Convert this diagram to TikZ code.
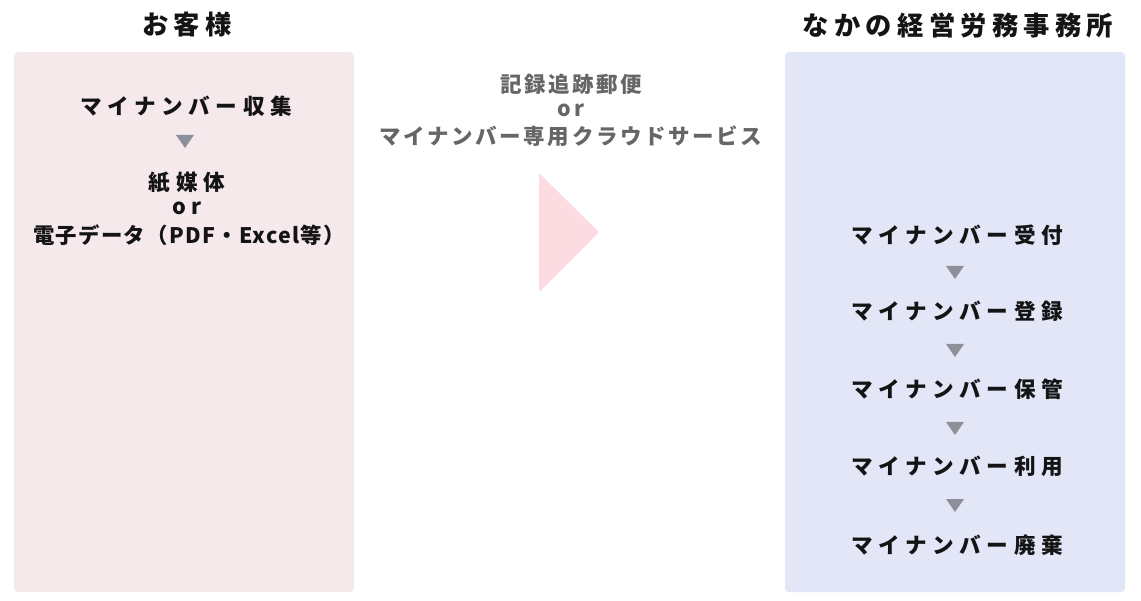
\documentclass[tikz,border=0pt]{standalone}
\usepackage{fontspec}
\setmainfont{Noto Sans CJK JP}
\newfontfamily\jpT{Noto Sans CJK JP}[LetterSpace=20]
\newfontfamily\jpA{Noto Sans CJK JP}[LetterSpace=26]
\newfontfamily\jpM{Noto Sans CJK JP}[LetterSpace=12]
\newfontfamily\jpB{Noto Sans CJK JP}[LetterSpace=6]
\definecolor{txt}{HTML}{141414}
\definecolor{midtxt}{HTML}{666666}
\definecolor{tri}{HTML}{8E9099}
\definecolor{pinkbox}{HTML}{F6E9EC}
\definecolor{bluebox}{HTML}{E2E6F7}
\definecolor{pinktri}{HTML}{FCDCE1}
\tikzset{
  ttl/.style={font=\jpT\bfseries\fontsize{26.3}{30}\selectfont, text=txt, inner sep=0pt},
  item/.style={font=\jpA\bfseries\fontsize{21.6}{24}\selectfont, text=txt, inner sep=0pt},
  itemB/.style={font=\jpB\bfseries\fontsize{21.4}{24}\selectfont, text=txt, inner sep=0pt},
  mid/.style={font=\jpM\bfseries\fontsize{21.5}{24}\selectfont, text=midtxt, inner sep=0pt},
  panel/.style={rounded corners=4pt},
  down/.style={fill=tri}
}
\begin{document}
\begin{tikzpicture}[x=1pt,y=-1pt]
\useasboundingbox (0,0) rectangle (1141,601);
\fill[white] (0,0) rectangle (1141,601);
% panels
\fill[panel, pinkbox] (14,52) rectangle (354,592);
\fill[panel, bluebox] (785,52) rectangle (1125,592);
% titles
\node[ttl] (t1) at (187,25) {お客様};
\node[ttl] (t2) at (958,25) {なかの経営労務事務所};
% left
\node[item] (l1) at (186,106) {マイナンバー収集};
\fill[down] (176,135) -- (194,135) -- (185,148) -- cycle;
\node[item] (l2) at (187,183) {紙媒体};
\node[item] (l3) at (187,208) {or};
\node[itemB] (l4) at (189,235) {電子データ（PDF・Excel等）};
% middle
\node[mid] (m1) at (571,84) {記録追跡郵便};
\node[mid] (m2) at (571,110) {or};
\node[mid] (m3) at (571,136) {マイナンバー専用クラウドサービス};
\fill[pinktri, rounded corners=2pt] (539,173) -- (599,232) -- (539,292) -- cycle;
% right
\node[item] (r1) at (957,235) {マイナンバー受付};
\node[item] (r2) at (957,311) {マイナンバー登録};
\node[item] (r3) at (957,389) {マイナンバー保管};
\node[item] (r4) at (957,466) {マイナンバー利用};
\node[item] (r5) at (957,545) {マイナンバー廃棄};
\foreach \y in {266,344,422,499}
  \fill[down] (946,\y) -- (964,\y) -- (955,\y+13) -- cycle;
\end{tikzpicture}
\end{document}
